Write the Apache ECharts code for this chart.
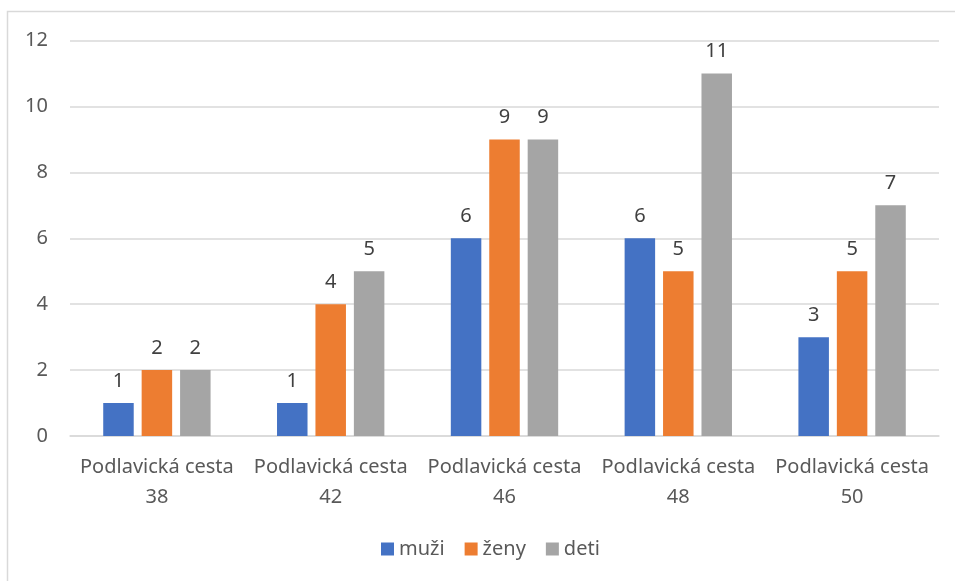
<!DOCTYPE html>
<html>
<head>
<meta charset="utf-8">
<script src="https://cdn.jsdelivr.net/npm/echarts@6/dist/echarts.min.js"></script>
<style>html,body{margin:0;padding:0;background:#fff}#c{width:955px;height:581px}</style>
</head>
<body>
<div id="c"></div>
<script>
const categories = ['Podlavická cesta\n38', 'Podlavická cesta\n42', 'Podlavická cesta\n46', 'Podlavická cesta\n48', 'Podlavická cesta\n50'];
const muzi = [1, 1, 6, 6, 3];
const zeny = [2, 4, 9, 5, 5];
const deti = [2, 5, 9, 11, 7];
const seriesNames = ['muži', 'ženy', 'deti'];
const yTicks = { min: 0, max: 12, interval: 2 };

const FONT = 'Noto Sans';
const FS = 20;
const chart = echarts.init(document.getElementById('c'), null, { renderer: 'canvas' });
const lbl = { show: true, position: 'top', distance: 12, color: '#404040', fontFamily: FONT, fontSize: FS };
const mk = (name, data, color) => ({
  name, type: 'bar', data, barWidth: 30.5, barGap: '26%',
  itemStyle: { color }, label: lbl
});
chart.setOption({
  animation: false,
  textStyle: { fontFamily: FONT },
  graphic: [{ type: 'rect', shape: { x: 7.5, y: 11.5, width: 1000, height: 1000 }, style: { fill: 'none', stroke: '#D9D9D9', lineWidth: 1.5 }, silent: true }],
  grid: { left: 70, right: 16, top: 40.5, bottom: 145, containLabel: false },
  legend: {
    bottom: 17, left: 376, itemWidth: 13, itemHeight: 13, itemGap: 20, icon: 'rect',
    textStyle: { color: '#595959', fontSize: FS, fontFamily: FONT },
    data: seriesNames
  },
  xAxis: {
    type: 'category', data: categories,
    axisLine: { lineStyle: { color: '#D9D9D9', width: 1.5 } },
    axisTick: { show: false },
    axisLabel: { color: '#595959', fontSize: FS, fontFamily: FONT, lineHeight: 30, margin: 16, interval: 0 }
  },
  yAxis: {
    type: 'value', min: yTicks.min, max: yTicks.max, interval: yTicks.interval,
    axisLine: { show: false }, axisTick: { show: false },
    splitLine: { lineStyle: { color: '#D9D9D9', width: 1.5 } },
    axisLabel: { color: '#595959', fontSize: FS, fontFamily: FONT, margin: 22 }
  },
  series: [
    mk(seriesNames[0], muzi, '#4472C4'),
    mk(seriesNames[1], zeny, '#ED7D31'),
    mk(seriesNames[2], deti, '#A5A5A5')
  ]
});
</script>
</body>
</html>
